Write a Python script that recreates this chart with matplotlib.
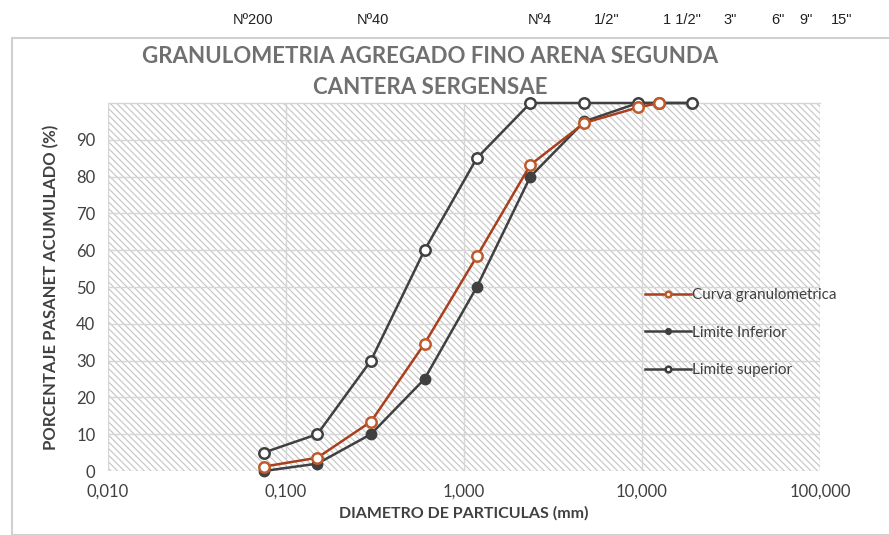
import numpy as np
import matplotlib.pyplot as plt
from matplotlib.patches import Rectangle

# tamices (mm)
diam = [0.075, 0.15, 0.3, 0.6, 1.18, 2.36, 4.75, 9.5, 12.5, 19.0]
curva = [1.2, 3.6, 13.4, 34.6, 58.3, 83.2, 94.6, 98.8, 100.0]
lim_inf = [0, 2, 10, 25, 50, 80, 95, 100, 100, 100]
lim_sup = [5, 10, 30, 60, 85, 100, 100, 100, 100, 100]

# escala superior (tamices)
tamiz_mm = [0.075, 0.425, 4.75, 12.5, 37.5, 75, 150, 225, 375]
tamiz_lbl = ['Nº200', 'Nº40', 'Nº4', '1/2"', '1 1/2"', '3"', '6"', '9"', '15"']

x_ticks = [0.01, 0.1, 1, 10, 100]
x_lbls = ['0,010', '0,100', '1,000', '10,000', '100,000']
y_ticks = list(range(0, 100, 10))

plt.rcParams['font.family'] = ['Lato', 'DejaVu Sans']
plt.rcParams['hatch.linewidth'] = 0.8
plt.rcParams['hatch.color'] = '#c4c4c4'

fig = plt.figure(figsize=(8.89, 5.35), dpi=100)

# marco del grafico
fig.patches.append(Rectangle((12/889, 0), 1, 1 - 38/535, transform=fig.transFigure,
                             fill=False, edgecolor='#d0d0d0', linewidth=1.5))

ax = fig.add_axes([108/889, 64/535, 712/889, 368/535])
ax.set_xscale('log')
ax.set_xlim(0.01, 100)
ax.set_ylim(0, 100)

ax.add_patch(Rectangle((0, 0), 1, 1, transform=ax.transAxes, facecolor='white',
                       hatch='\\' * 5, linewidth=0, zorder=0))
ax.set_facecolor('none')

ax.set_xticks(x_ticks)
ax.set_xticklabels(x_lbls)
ax.set_xticks([], minor=True)
ax.set_yticks(y_ticks)
ax.grid(True, color='#d6d6d6', linewidth=1.0, zorder=1)
ax.axhline(100, color='#d6d6d6', linewidth=1.0, zorder=1)
for s in ax.spines.values():
    s.set_visible(False)
ax.tick_params(length=0, labelsize=12, colors='#404040', pad=9)

ax.plot(diam[:len(curva)], curva, color='#a8401e', lw=1.8, marker='o', ms=7.5,
        mfc='white', mec='#c05a2a', mew=1.8, label='Curva granulometrica', zorder=4)
ax.plot(diam, lim_inf, color='#404040', lw=1.8, marker='o', ms=7.5,
        mfc='#404040', mec='#404040', label='Limite Inferior', zorder=3)
ax.plot(diam, lim_sup, color='#404040', lw=1.8, marker='o', ms=7.5,
        mfc='white', mec='#404040', mew=1.8, label='Limite superior', zorder=3)

for c in ax.lines:
    c.set_clip_on(False)

leg = ax.legend(loc='upper left', bbox_to_anchor=(0.735, 0.535), frameon=False,
                markerscale=0.55, handlelength=3.0, handletextpad=0.1,
                labelspacing=1.55, fontsize=11)
for t in leg.get_texts():
    t.set_color('#404040')

ax.set_xlabel('DIAMETRO DE PARTICULAS (mm)', fontsize=11.5, fontweight='bold',
              color='#404040', labelpad=5)
ax.set_ylabel('PORCENTAJE PASANET ACUMULADO (%)', fontsize=12, fontweight='bold',
              color='#404040', labelpad=12)

fig.text(430/889, 1 - 57/535, 'GRANULOMETRIA AGREGADO FINO ARENA SEGUNDA',
         ha='center', va='center', fontsize=16, fontweight='bold', color='#707070')
fig.text(430/889, 1 - 88/535, 'CANTERA SERGENSAE', ha='center', va='center',
         fontsize=16, fontweight='bold', color='#707070')

# eje superior con tamices
axt = fig.add_axes([0, 1 - 20/535, 1, 0.001])
axt.set_xscale('log')
L = 0.075 / 10 ** (253 / 159)
axt.set_xlim(L, L * 10 ** (889 / 159))
axt.set_xticks(tamiz_mm)
axt.set_xticklabels(tamiz_lbl, family=['Liberation Sans', 'DejaVu Sans'])
axt.set_xticks([], minor=True)
axt.set_yticks([])
axt.tick_params(length=0, labelsize=10.5, colors='#202020', pad=0)
for lab in axt.get_xticklabels():
    lab.set_verticalalignment('center')
for s in axt.spines.values():
    s.set_visible(False)
axt.patch.set_visible(False)

fig.savefig('out.png', dpi=100)
